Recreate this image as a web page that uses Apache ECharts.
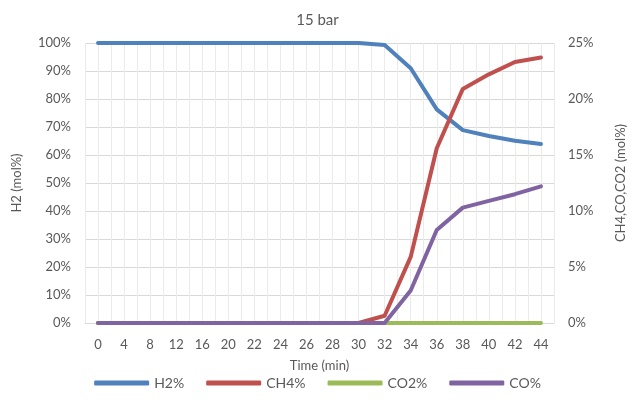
<!DOCTYPE html>
<html>
<head>
    <meta charset="UTF-8">
    <script src="https://cdn.jsdelivr.net/npm/echarts@6/dist/echarts.min.js"></script>
    <style>
        html, body { margin: 0; padding: 0; background: #fff; }
    </style>
</head>
<body>
<div id="main" style="width: 635px; height: 400px;"></div>
<script type="text/javascript">
    // time axis labels (min)
    var times = ['0', '4', '8', '12', '16', '20', '22', '24', '26', '28', '30', '32', '34', '36', '38', '40', '42', '44'];
    // left axis, mol%
    var h2 = [100, 100, 100, 100, 100, 100, 100, 100, 100, 100, 100, 99.3, 91, 76.3, 68.9, 66.8, 65.1, 63.9];
    // right axis, mol%
    var ch4 = [0, 0, 0, 0, 0, 0, 0, 0, 0, 0, 0, 0.65, 5.9, 15.6, 20.9, 22.2, 23.3, 23.7];
    var co2 = [0, 0, 0, 0, 0, 0, 0, 0, 0, 0, 0, 0, 0, 0, 0, 0, 0, 0];
    var co = [0, 0, 0, 0, 0, 0, 0, 0, 0, 0, 0, 0, 2.9, 8.3, 10.3, 10.9, 11.5, 12.2];

    // half-step slots, only used for the vertical grid lines
    var halfSlots = [];
    for (var i = 0; i < times.length * 2; i++) halfSlots.push(i);

    var txt = '#595959';
    var font = 'Lato';
    var myChart = echarts.init(document.getElementById('main'));
    var option = {
        animation: false,
        textStyle: {fontFamily: font},
        title: {
            text: '15 bar',
            left: 'center',
            top: 8,
            textStyle: {fontFamily: font, fontSize: 15, fontWeight: 'normal', color: txt}
        },
        legend: {
            bottom: 5,
            left: 'center',
            itemWidth: 55,
            itemHeight: 5,
            itemGap: 22,
            icon: 'roundRect',
            textStyle: {fontFamily: font, fontSize: 14, color: txt},
            data: ['H2%', 'CH4%', 'CO2%', 'CO%']
        },
        grid: {left: 85, right: 68, top: 43, bottom: 77},
        xAxis: [{
            type: 'category',
            data: times,
            boundaryGap: true,
            name: 'Time (min)',
            nameLocation: 'middle',
            nameGap: 36,
            nameTextStyle: {fontFamily: font, fontSize: 13, color: txt},
            axisLine: {lineStyle: {color: '#d9d9d9'}},
            axisTick: {show: false},
            axisLabel: {interval: 0, fontSize: 13, color: txt, margin: 15},
            splitLine: {show: false}
        }, {
            type: 'category',
            data: halfSlots,
            boundaryGap: true,
            position: 'bottom',
            axisLine: {show: false},
            axisTick: {show: false},
            axisLabel: {show: false, interval: 0},
            splitLine: {show: true, interval: 0, lineStyle: {color: '#ebebeb'}}
        }],
        yAxis: [{
            type: 'value',
            min: 0,
            max: 100,
            interval: 10,
            name: 'H2 (mol%)',
            nameLocation: 'middle',
            nameRotate: 90,
            nameGap: 62,
            nameTextStyle: {fontFamily: font, fontSize: 13, color: txt},
            axisLine: {show: false},
            axisTick: {show: false},
            axisLabel: {formatter: '{value}%', fontSize: 13, color: txt, margin: 14},
            splitLine: {lineStyle: {color: '#d9d9d9'}}
        }, {
            type: 'value',
            min: 0,
            max: 25,
            interval: 5,
            name: 'CH4,CO,CO2 (mol%)',
            nameLocation: 'middle',
            nameRotate: 90,
            nameGap: 60,
            nameTextStyle: {fontFamily: font, fontSize: 13, color: txt},
            axisLine: {show: false},
            axisTick: {show: false},
            axisLabel: {formatter: '{value}%', fontSize: 13, color: txt, margin: 14},
            splitLine: {show: false}
        }],
        series: [
            {name: 'H2%', type: 'line', yAxisIndex: 0, data: h2, symbol: 'none', color: '#4f81bd', lineStyle: {width: 4, cap: 'round', join: 'round'}},
            {name: 'CH4%', type: 'line', yAxisIndex: 1, data: ch4, symbol: 'none', color: '#c0504d', lineStyle: {width: 4, cap: 'round', join: 'round'}},
            {name: 'CO2%', type: 'line', yAxisIndex: 1, data: co2, symbol: 'none', color: '#9bbb59', lineStyle: {width: 4, cap: 'round', join: 'round'}},
            {name: 'CO%', type: 'line', yAxisIndex: 1, data: co, symbol: 'none', color: '#8064a2', lineStyle: {width: 4, cap: 'round', join: 'round'}}
        ]
    };
    myChart.setOption(option);
</script>
</body>
</html>
